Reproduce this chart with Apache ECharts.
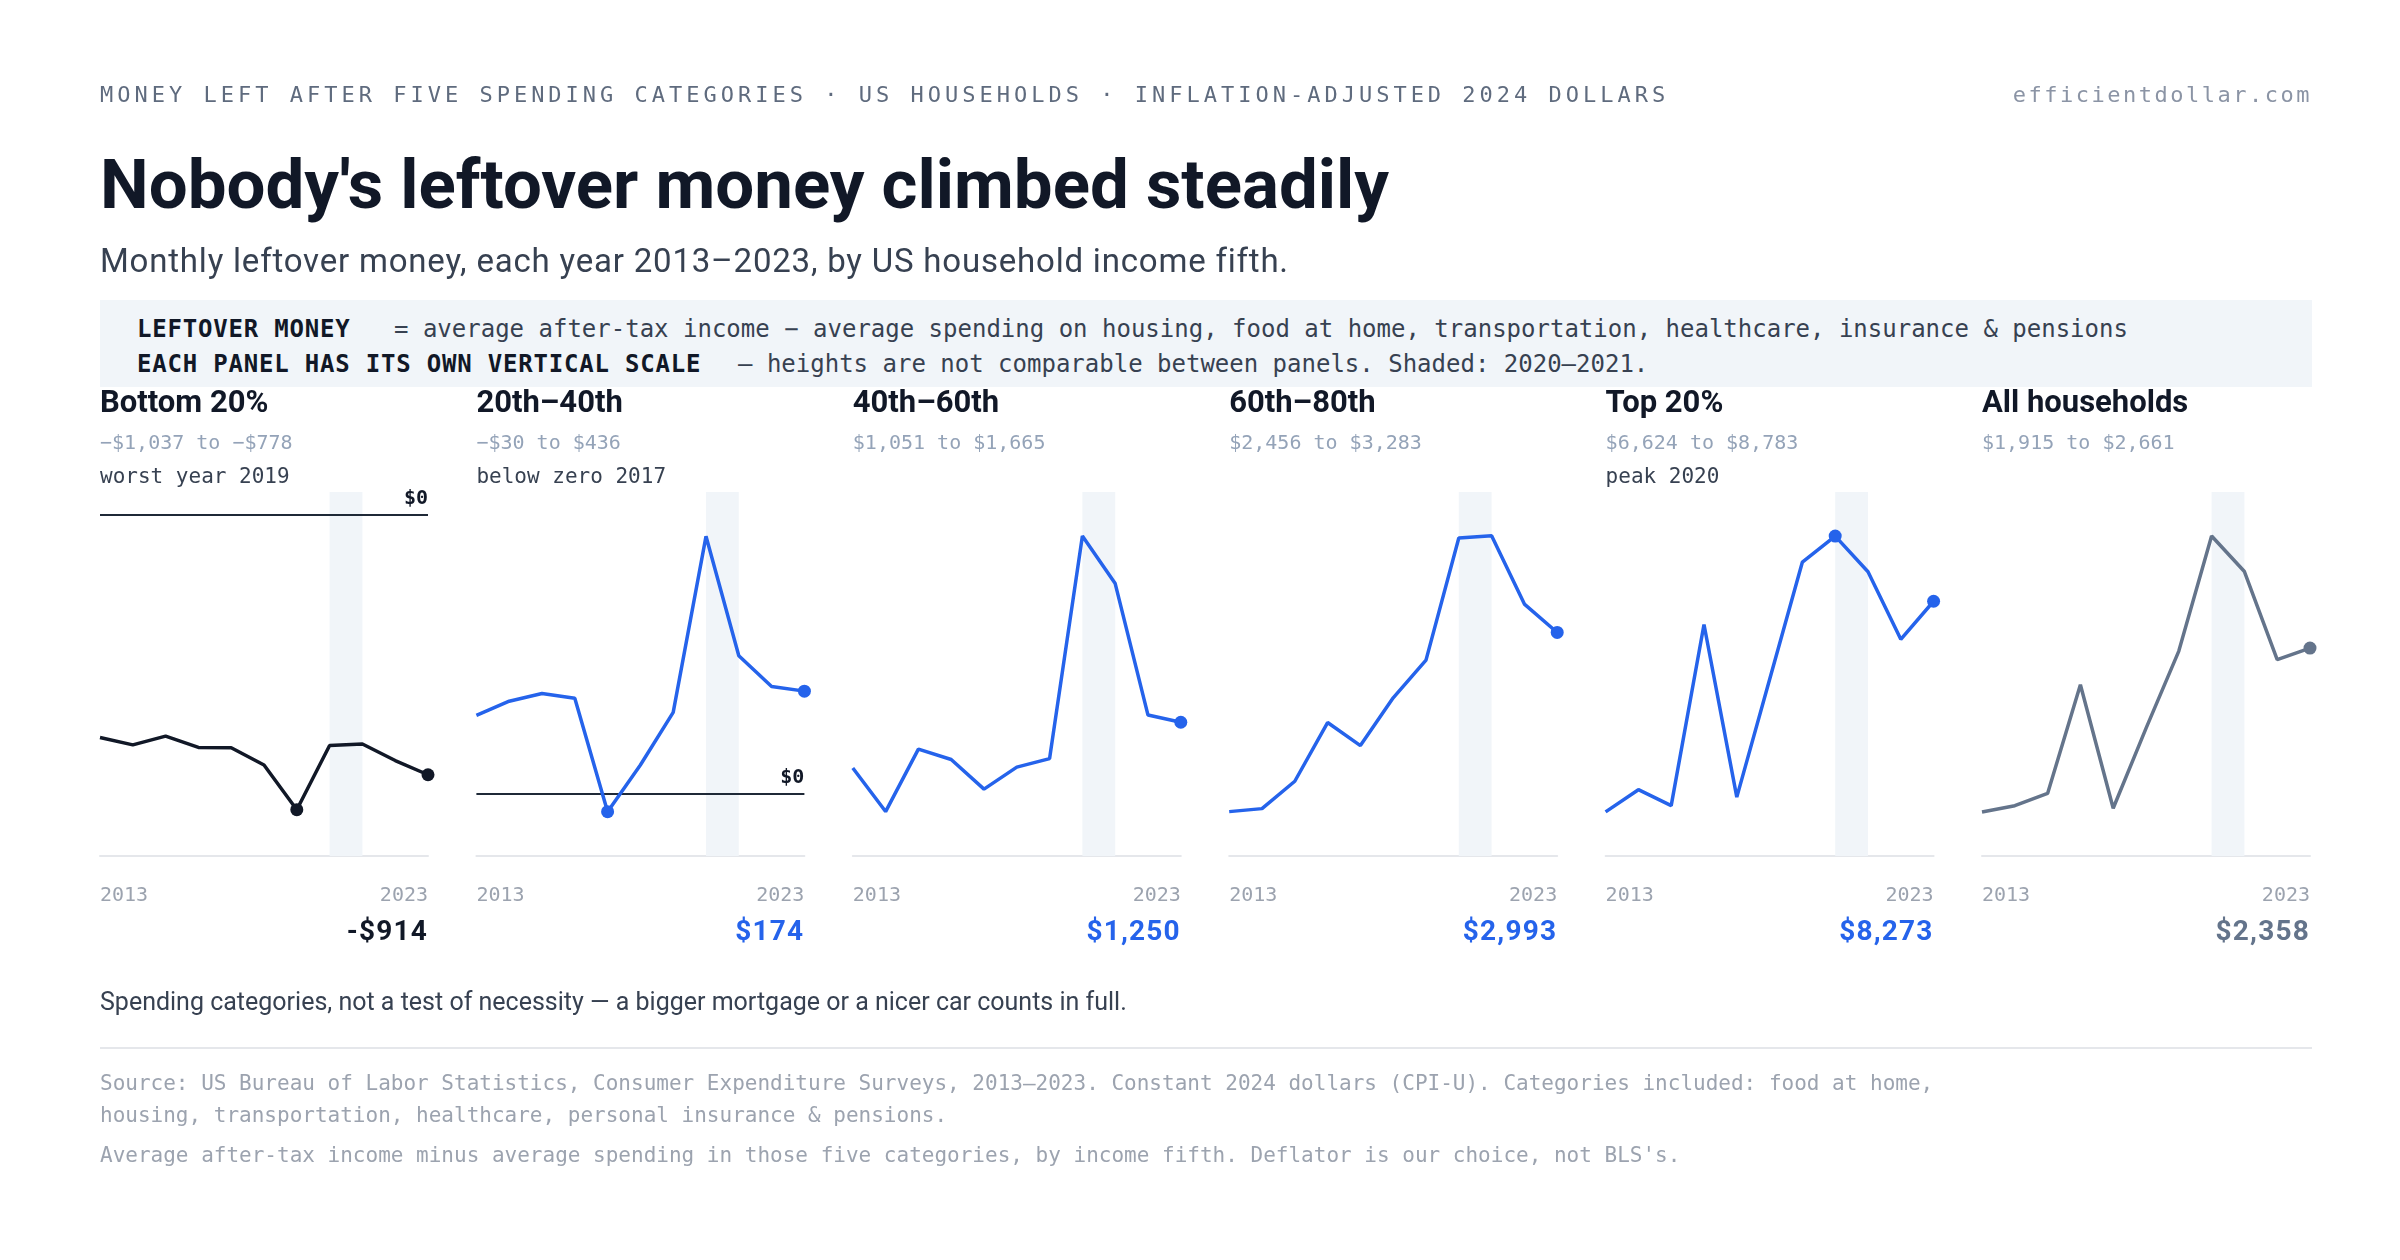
<!DOCTYPE html>
<html>
<head>
<meta charset="utf-8">
<title>Nobody's leftover money climbed steadily</title>
<script src="https://cdn.jsdelivr.net/npm/echarts@6/dist/echarts.min.js"></script>
<style>
  body { margin: 0; background: #fff; }
  #page { position: relative; width: 2400px; height: 1260px; overflow: hidden; background: #fff; }
  #chart { position: absolute; left: 0; top: 0; width: 2400px; height: 1260px; }
  .t { position: absolute; white-space: nowrap; line-height: 1; z-index: 2; }
  .mono { font-family: "DejaVu Sans Mono", "Liberation Mono", monospace; }
  .sans { font-family: Roboto, "Noto Sans", sans-serif; }
  .box { position: absolute; left: 100px; top: 300px; width: 2212px; height: 87px; background: #f1f5f9; z-index: 1; }
  .rule { position: absolute; left: 100px; top: 1047px; width: 2212px; height: 2px; background: #e5e7eb; }
</style>
</head>
<body>
<div id="page">
  <div id="chart"></div>

  <div class="t mono" style="left:100px;top:84px;font-size:22px;letter-spacing:4px;color:#5f6b7e;">MONEY LEFT AFTER FIVE SPENDING CATEGORIES · US HOUSEHOLDS · INFLATION-ADJUSTED 2024 DOLLARS</div>
  <div class="t mono" style="right:88px;top:84px;font-size:22px;letter-spacing:2.5px;color:#8b94a5;">efficientdollar.com</div>

  <div class="t sans" style="left:100px;top:150px;font-size:69px;font-weight:700;color:#111827;">Nobody's leftover money climbed steadily</div>
  <div class="t sans" style="left:100px;top:244px;font-size:33px;letter-spacing:0.8px;color:#374151;">Monthly leftover money, each year 2013–2023, by US household income fifth.</div>

  <div class="box"></div>
  <div class="t mono" style="left:137px;top:317px;font-size:24px;font-weight:700;letter-spacing:0.8px;color:#111827;">LEFTOVER MONEY</div>
  <div class="t mono" style="left:394px;top:317px;font-size:24px;color:#374151;">= average after-tax income − average spending on housing, food at home, transportation, healthcare, insurance &amp; pensions</div>
  <div class="t mono" style="left:137px;top:352px;font-size:24px;font-weight:700;letter-spacing:0.8px;color:#111827;">EACH PANEL HAS ITS OWN VERTICAL SCALE</div>
  <div class="t mono" style="left:738px;top:352px;font-size:24px;color:#374151;">— heights are not comparable between panels. Shaded: 2020–2021.</div>

  <div class="t sans" style="left:100px;top:989px;font-size:25px;color:#374151;">Spending categories, not a test of necessity — a bigger mortgage or a nicer car counts in full.</div>
  <div class="rule"></div>
  <div class="t mono" style="left:100px;top:1073px;font-size:21px;color:#9ca3af;">Source: US Bureau of Labor Statistics, Consumer Expenditure Surveys, 2013–2023. Constant 2024 dollars (CPI-U). Categories included: food at home,</div>
  <div class="t mono" style="left:100px;top:1105px;font-size:21px;color:#9ca3af;">housing, transportation, healthcare, personal insurance &amp; pensions.</div>
  <div class="t mono" style="left:100px;top:1145px;font-size:21px;color:#9ca3af;">Average after-tax income minus average spending in those five categories, by income fifth. Deflator is our choice, not BLS's.</div>
</div>

<script>
// monthly leftover money, 2024 dollars
var years = ['2013', '2014', '2015', '2016', '2017', '2018', '2019', '2020', '2021', '2022', '2023'];

var bottom20   = [-783, -809, -778, -818, -819, -880, -1037, -811, -806, -864, -914];
var p20to40    = [133, 157, 170, 162, -30, 49, 138, 436, 234, 182, 174];
var p40to60    = [1148, 1051, 1190, 1167, 1101, 1150, 1169, 1665, 1559, 1266, 1250];
var p60to80    = [2456, 2465, 2547, 2723, 2654, 2797, 2910, 3276, 3283, 3078, 2993];
var top20      = [6624, 6798, 6673, 8091, 6740, 7661, 8580, 8783, 8504, 7975, 8273];
var households = [1915, 1932, 1965, 2259, 1925, 2141, 2350, 2661, 2565, 2327, 2358];

var panelNames = ['Bottom 20%', '20th–40th', '40th–60th', '60th–80th', 'Top 20%', 'All households'];
var panelNotes = ['worst year 2019', 'below zero 2017', '', '', 'peak 2020', ''];
var panelData  = [bottom20, p20to40, p40to60, p60to80, top20, households];
var markedIdx  = [[6, 10], [4, 10], [10], [10], [7, 10], [10]];
var shaded     = ['2020', '2021'];

// own vertical scale per panel
var yMin = [-1200, -105, 952, 2323, 6279, 1796];
var yMax = [81, 511, 1763, 3414, 9128, 2780];

var colors = ['#111827', '#2563eb', '#2563eb', '#2563eb', '#2563eb', '#64748b'];
var MONO = '"DejaVu Sans Mono", "Liberation Mono", monospace';

function money(v, minus) {
    return (v < 0 ? (minus || '−') : '') + '$' + Math.abs(v).toLocaleString('en-US');
}

var page = document.getElementById('page');
function addText(cls, style, text) {
    var d = document.createElement('div');
    d.className = 't ' + cls;
    d.style.cssText = style;
    d.textContent = text;
    page.appendChild(d);
}

var grids = [], xAxes = [], yAxes = [], series = [];

panelData.forEach(function (vals, i) {
    var left = 100 + i * 376.4;
    var lo = Math.min.apply(null, vals), hi = Math.max.apply(null, vals);

    addText('sans', 'left:' + left + 'px;top:386px;font-size:31px;font-weight:700;color:#111827;', panelNames[i]);
    addText('mono', 'left:' + left + 'px;top:432px;font-size:20px;color:#94a3b8;', money(lo) + ' to ' + money(hi));
    if (panelNotes[i]) {
        addText('mono', 'left:' + left + 'px;top:466px;font-size:21px;color:#374151;', panelNotes[i]);
    }
    addText('sans', 'left:' + (left - 100) + 'px;width:428px;text-align:right;top:917px;font-size:28px;font-weight:700;letter-spacing:1.2px;color:' + colors[i] + ';',
        money(vals[vals.length - 1], '-'));

    grids.push({ left: left, top: 492, width: 328, height: 364 });

    xAxes.push({
        gridIndex: i,
        type: 'category',
        data: years,
        boundaryGap: false,
        axisLine: { onZero: false, lineStyle: { color: '#e5e7eb', width: 2 } },
        axisTick: { show: false },
        splitLine: { show: false },
        axisLabel: {
            interval: function (idx) { return idx === 0 || idx === years.length - 1; },
            alignMinLabel: 'left',
            alignMaxLabel: 'right',
            color: '#9ca3af',
            fontFamily: MONO,
            fontSize: 20,
            margin: 30
        }
    });

    yAxes.push({
        gridIndex: i,
        type: 'value',
        min: yMin[i],
        max: yMax[i],
        show: false,
        splitLine: { show: false }
    });

    var s = {
        type: 'line',
        xAxisIndex: i,
        yAxisIndex: i,
        silent: true,
        showSymbol: true,
        showAllSymbol: true,
        symbolSize: 13,
        z: 5,
        lineStyle: { color: colors[i], width: 3.5 },
        itemStyle: { color: colors[i] },
        emphasis: { disabled: true },
        data: vals.map(function (v, k) {
            return { value: v, symbol: markedIdx[i].indexOf(k) >= 0 ? 'circle' : 'none' };
        }),
        markArea: {
            silent: true,
            itemStyle: { color: '#f1f5f9' },
            data: [[{ xAxis: shaded[0] }, { xAxis: shaded[1] }]]
        }
    };
    if (yMin[i] < 0 && yMax[i] > 0) {
        s.markLine = {
            silent: true,
            symbol: 'none',
            animation: false,
            lineStyle: { color: '#1f2937', width: 2, type: 'solid' },
            label: {
                position: 'insideEndTop',
                formatter: '$0',
                color: '#111827',
                fontFamily: MONO,
                fontWeight: 'bold',
                fontSize: 20,
                distance: [0, 6]
            },
            data: [{ yAxis: 0 }]
        };
    }
    series.push(s);
});

var myChart = echarts.init(document.getElementById('chart'));
myChart.setOption({
    animation: false,
    grid: grids,
    xAxis: xAxes,
    yAxis: yAxes,
    series: series
});
</script>
</body>
</html>
